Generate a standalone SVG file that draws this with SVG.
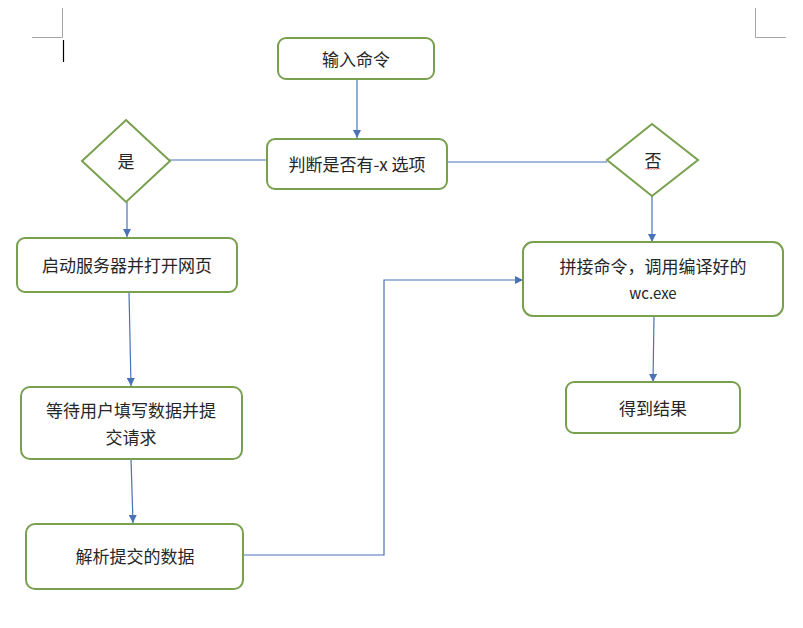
<svg xmlns="http://www.w3.org/2000/svg" width="803" height="628" viewBox="0 0 803 628">
<style>
.box{fill:#fff;stroke:#78a04e;stroke-width:2}
.t{font-family:"Microsoft YaHei","Noto Sans CJK SC",sans-serif;font-size:17px;fill:#262626;text-anchor:middle;dominant-baseline:central}
.c{fill:none;stroke:#4a72b8;stroke-width:1.2}
.mark{stroke:#a6a6a6;stroke-width:1;fill:none}
</style>
<defs>
<marker id="ah" viewBox="0 0 10 10" refX="10" refY="5" markerWidth="8" markerHeight="8" markerUnits="userSpaceOnUse" orient="auto">
<path d="M0,0 L10,5 L0,10 z" fill="#4a72b8"/>
</marker>
</defs>
<rect width="803" height="628" fill="#fff"/>
<g id="page-marks">
<path class="mark" d="M62.5,8 V37.5 H32"/>
<path class="mark" d="M755.5,8 V37.5 H786"/>
<path d="M63.5,40 V62" stroke="#000" stroke-width="1.2"/>
</g>
<g id="connectors">
<path class="c" d="M357,79 V138" marker-end="url(#ah)"/>
<path class="c" d="M170,160 H267"/>
<path class="c" d="M447,162 H607"/>
<path class="c" d="M127,202 V237" marker-end="url(#ah)"/>
<path class="c" d="M652,196 V242" marker-end="url(#ah)"/>
<path class="c" d="M129,292 L131,386" marker-end="url(#ah)"/>
<path class="c" d="M131,459 L133,523" marker-end="url(#ah)"/>
<path class="c" d="M243,555 H384 V280 H523" marker-end="url(#ah)"/>
<path class="c" d="M654,316 L653,382" marker-end="url(#ah)"/>
</g>
<g id="n-input">
<rect class="box" x="278" y="38" width="156" height="41" rx="8"/>
<text class="t" x="356" y="58">输入命令</text>
</g>
<g id="n-judge">
<rect class="box" x="267" y="139" width="180" height="50" rx="8"/>
<text class="t" x="357" y="163">判断是否有-x 选项</text>
</g>
<g id="n-yes">
<polygon class="box" points="126,120 170,161 126,202 82,161"/>
<text class="t" x="126" y="160">是</text>
</g>
<g id="n-no">
<polygon class="box" points="652,124 698,160 652,196 607,160"/>
<text class="t" x="653" y="159">否</text>
<path d="M645,169.5 l1.5,-1.5 1.5,1.5 1.5,-1.5 1.5,1.5 1.5,-1.5 1.5,1.5 1.5,-1.5 1.5,1.5 1.5,-1.5 1.5,1.5" fill="none" stroke="#d03030" stroke-width="0.8"/>
</g>
<g id="n-start">
<rect class="box" x="17" y="238" width="220" height="54" rx="8"/>
<text class="t" x="127" y="264">启动服务器并打开网页</text>
</g>
<g id="n-wait">
<rect class="box" x="21" y="387" width="221" height="72" rx="9"/>
<text class="t" x="131" y="409">等待用户填写数据并提</text>
<text class="t" x="131" y="436">交请求</text>
</g>
<g id="n-parse">
<rect class="box" x="26" y="524" width="217" height="65" rx="9"/>
<text class="t" x="135" y="555">解析提交的数据</text>
</g>
<g id="n-concat">
<rect class="box" x="523" y="242" width="260" height="74" rx="10"/>
<text class="t" x="653" y="265">拼接命令，调用编译好的</text>
<text class="t" x="653" y="292" style="font-size:15px">wc.exe</text>
</g>
<g id="n-result">
<rect class="box" x="566" y="382" width="174" height="51" rx="8"/>
<text class="t" x="653" y="407">得到结果</text>
</g>
</svg>
